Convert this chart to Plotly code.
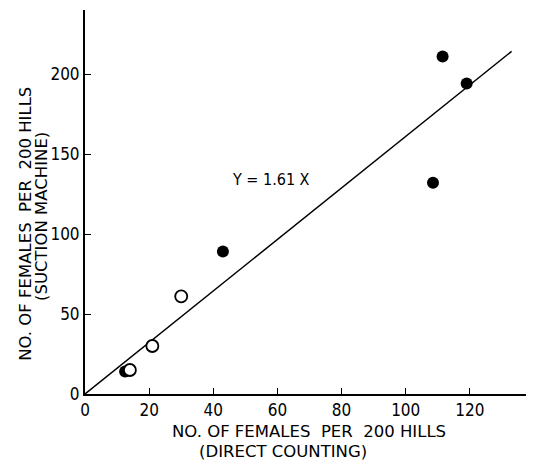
import plotly.graph_objects as go

# Data
filled_x = [12.5, 43, 108.5, 111.5, 119]
filled_y = [14, 89, 132, 211, 194]
open_x = [14, 21, 30]
open_y = [15, 30, 61]
slope = 1.61
line_x = [0, 133]
line_y = [slope * v for v in line_x]

x_ticks = [0, 20, 40, 60, 80, 100, 120]
y_ticks = [0, 50, 100, 150, 200]

TICKFONT = "Liberation Sans Narrow, DejaVu Sans Condensed, sans-serif"
TITLEFONT = "DejaVu Sans, Verdana, sans-serif"
SP = "&nbsp;"

fig = go.Figure()
fig.add_trace(go.Scatter(x=line_x, y=line_y, mode="lines",
                         line=dict(color="black", width=1.5),
                         showlegend=False, hoverinfo="skip"))
fig.add_trace(go.Scatter(x=filled_x, y=filled_y, mode="markers",
                         marker=dict(color="black", size=12, symbol="circle"),
                         showlegend=False))
fig.add_trace(go.Scatter(x=open_x, y=open_y, mode="markers",
                         marker=dict(color="white", size=12, symbol="circle",
                                     line=dict(color="black", width=1.8)),
                         showlegend=False))

fig.update_xaxes(range=[0, 137.5], tickvals=x_ticks, ticks="inside", ticklen=6,
                 tickcolor="black", showline=True, linecolor="black", linewidth=1.5,
                 showgrid=False, zeroline=False, automargin=False,
                 tickfont=dict(family=TICKFONT, size=17, color="black"))
fig.update_yaxes(range=[0, 240], tickvals=y_ticks, ticks="inside", ticklen=6,
                 tickcolor="black", showline=True, linecolor="black", linewidth=2,
                 showgrid=False, zeroline=False, automargin=False,
                 tickfont=dict(family=TICKFONT, size=17, color="black"))

fig.add_annotation(x=58, y=134, xref="x", yref="y", text="Y = 1.61 X",
                   showarrow=False, font=dict(family=TICKFONT, size=16, color="black"))

annots = [
    dict(x=0.508, y=-0.0964, text=f"NO. OF FEMALES{SP} PER{SP} 200 HILLS"),
    dict(x=0.449, y=-0.151, text="(DIRECT COUNTING)"),
    dict(x=-0.134, y=0.443, text=f"NO. OF FEMALES{SP} PER{SP} 200 HILLS", angle=-90),
    dict(x=-0.0998, y=0.4635, text="(SUCTION MACHINE)", angle=-90),
]
for a in annots:
    fig.add_annotation(x=a["x"], y=a["y"], xref="paper", yref="paper", text=a["text"],
                       showarrow=False, textangle=a.get("angle", 0),
                       xanchor="center", yanchor="middle",
                       font=dict(family=TITLEFONT, size=16.5, color="black"))

# page has an 8px body margin; figure sized to fit the 534x470 window
fig.update_layout(width=518, height=454, margin=dict(l=77, r=0, t=2, b=68),
                  plot_bgcolor="white", paper_bgcolor="white")

fig.write_html("out.html")
